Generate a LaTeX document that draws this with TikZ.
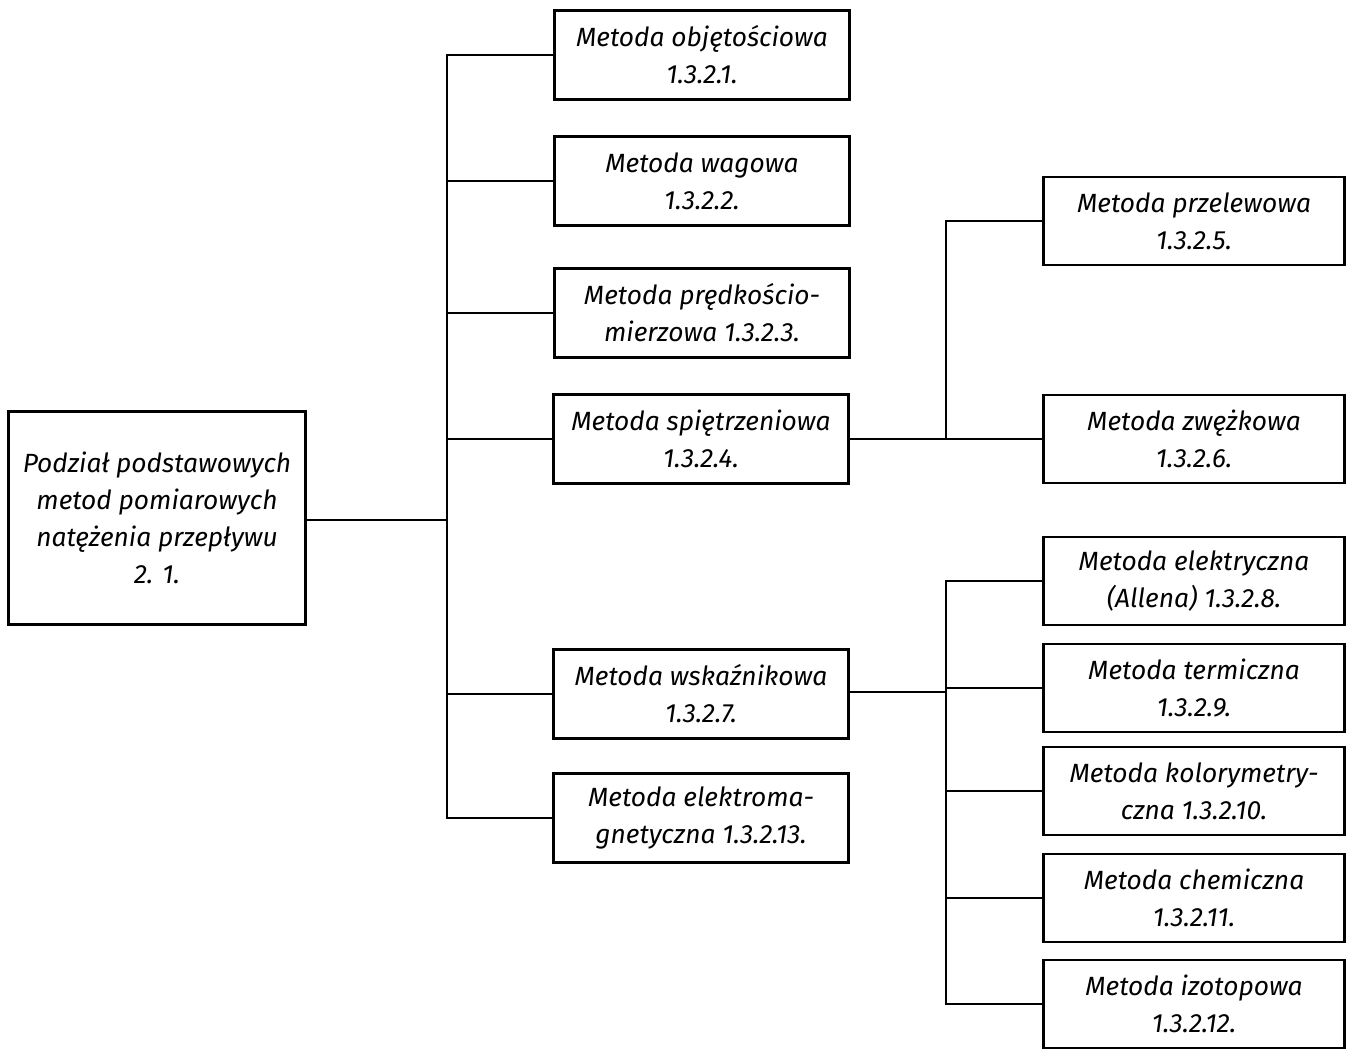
\documentclass[tikz,border=0pt]{standalone}
\usepackage{fontspec}
\setmainfont{Fira Sans}
\usetikzlibrary{positioning}

\begin{document}
\begin{tikzpicture}[x=0.02cm,y=-0.02cm,line width=1.2pt]
  \tikzstyle{method}=[align=center,rectangle,draw=black,line width=1.4pt,minimum width=5.9cm,minimum height=1.78cm,inner sep=2pt,font=\fontsize{15}{21}\selectfont\itshape]
  \tikzstyle{submethod}=[method,minimum width=6.02cm,minimum height=1.76cm]
  \tikzstyle{root}=[method,minimum width=5.94cm,minimum height=4.26cm]

  \useasboundingbox (0,0) rectangle (1354,1049);

  % Root.
  \node [root] (r) at (157,518) {Podział podstawowych\\metod pomiarowych\\natężenia przepływu\\2. 1.};

  % Second column.
  \node [method] (c1) at (702,55) {Metoda objętościowa\\1.3.2.1.};
  \node [method] (c2) at (702,181) {Metoda wagowa\\1.3.2.2.};
  \node [method] (c3) at (702,313) {Metoda prędkościo-\\mierzowa 1.3.2.3.};
  \node [method] (c4) at (701,439) {Metoda spiętrzeniowa\\1.3.2.4.};
  \node [method] (c7) at (701,694) {Metoda wskaźnikowa\\1.3.2.7.};
  \node [method] (c13) at (701,818) {Metoda elektroma-\\gnetyczna 1.3.2.13.};

  % Third column.
  \node [submethod] (c5) at (1194,221) {Metoda przelewowa\\1.3.2.5.};
  \node [submethod] (c6) at (1194,439) {Metoda zwężkowa\\1.3.2.6.};
  \node [submethod] (c8) at (1194,581) {Metoda elektryczna\\(Allena) 1.3.2.8.};
  \node [submethod] (c9) at (1194,688) {Metoda termiczna\\1.3.2.9.};
  \node [submethod] (c10) at (1194,791) {Metoda kolorymetry-\\czna 1.3.2.10.};
  \node [submethod] (c11) at (1194,898) {Metoda chemiczna\\1.3.2.11.};
  \node [submethod] (c12) at (1194,1004) {Metoda izotopowa\\1.3.2.12.};

  \coordinate (t1) at (447,520);
  \coordinate (t2) at (946,439);
  \coordinate (t3) at (946,692);

  \draw (r.east |- t1) -- (t1);
  \foreach \n in {c1,c2,c3,c4,c7,c13}
    \draw (\n.west) -| (t1);

  \draw (c4.east) -- (c6.west);
  \draw (c5.west) -| (t2);

  \draw (c7.east |- t3) -- (t3);
  \foreach \n in {c8,c9,c10,c11,c12}
    \draw (\n.west) -| (t3);
\end{tikzpicture}
\end{document}
